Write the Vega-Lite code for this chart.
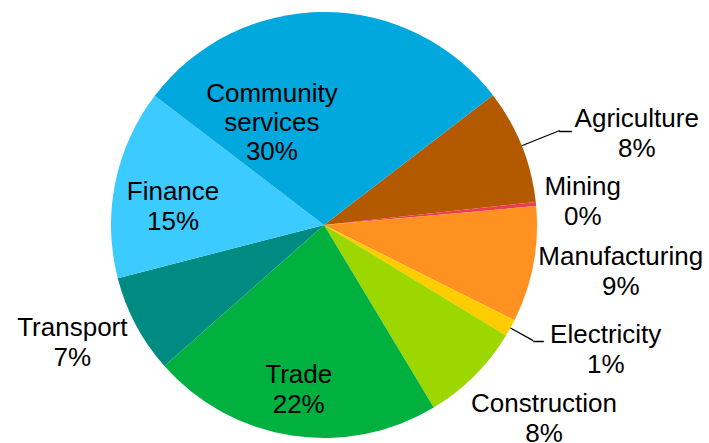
{
  "$schema": "https://vega.github.io/schema/vega-lite/v6.json",
  "width": 648,
  "height": 436,
  "padding": {"left": 0, "top": 7, "right": 61, "bottom": 0},
  "autosize": {"type": "none"},
  "background": "white",
  "config": {"view": {"stroke": null}},
  "data": {
    "values": [
      {"seq": 1, "sector": "Agriculture", "share": 8.7, "label": "Agriculture\n8%"},
      {"seq": 2, "sector": "Mining", "share": 0.3, "label": "Mining\n0%"},
      {"seq": 3, "sector": "Manufacturing", "share": 8.8, "label": "Manufacturing\n9%"},
      {"seq": 4, "sector": "Electricity", "share": 1.3, "label": "Electricity\n1%"},
      {"seq": 5, "sector": "Construction", "share": 7.7, "label": "Construction\n8%"},
      {"seq": 6, "sector": "Trade", "share": 22.1, "label": "Trade\n22%"},
      {"seq": 7, "sector": "Transport", "share": 7.5, "label": "Transport\n7%"},
      {"seq": 8, "sector": "Finance", "share": 14.4, "label": "Finance\n15%"},
      {"seq": 9, "sector": "Community services", "share": 29.2, "label": "Community\nservices\n30%"}
    ]
  },
  "encoding": {
    "theta": {"field": "share", "type": "quantitative", "stack": true, "scale": {"range": [0.9163, 7.1995]}},
    "order": {"field": "seq", "type": "quantitative"},
    "detail": {"field": "sector", "type": "nominal"}
  },
  "layer": [
    {
      "mark": {"type": "arc", "outerRadius": 213},
      "encoding": {
        "color": {
          "field": "sector", "type": "nominal", "legend": null,
          "scale": {
            "domain": ["Agriculture", "Mining", "Manufacturing", "Electricity", "Construction", "Trade", "Transport", "Finance", "Community services"],
            "range": ["#B35A00", "#EE3B4E", "#FF9121", "#FFCC00", "#9CD700", "#00B140", "#008B82", "#3CCBFF", "#00A8DD"]
          }
        }
      }
    },
    {
      "mark": {"type": "arc", "innerRadius": 213, "outerRadius": 254, "padAngle": 1.5, "fillOpacity": 0, "stroke": "black", "strokeWidth": 1.3},
      "encoding": {"strokeOpacity": {"condition": {"test": "datum.sector === 'Agriculture'", "value": 1}, "value": 0}}
    },
    {
      "mark": {"type": "arc", "innerRadius": 213, "outerRadius": 239, "padAngle": 1.5, "fillOpacity": 0, "stroke": "black", "strokeWidth": 1.3},
      "encoding": {"strokeOpacity": {"condition": {"test": "datum.sector === 'Electricity'", "value": 1}, "value": 0}}
    },
    {
      "mark": {"type": "text", "text": "—", "font": "Liberation Sans", "fontSize": 12, "radius": 259, "dx": 1, "dy": 2, "align": "center", "baseline": "middle", "color": "black", "stroke": "black", "strokeWidth": 0.6},
      "encoding": {"opacity": {"condition": {"test": "datum.sector === 'Agriculture'", "value": 1}, "value": 0}}
    },
    {
      "mark": {"type": "text", "text": "—", "font": "Liberation Sans", "fontSize": 10, "radius": 244, "dx": 1, "dy": -2, "align": "center", "baseline": "middle", "color": "black", "stroke": "black", "strokeWidth": 0.6},
      "encoding": {"opacity": {"condition": {"test": "datum.sector === 'Electricity'", "value": 1}, "value": 0}}
    },
    {
      "mark": {"type": "text", "font": "Liberation Sans", "fontSize": 26, "lineBreak": "\n", "lineHeight": 30, "align": "center", "baseline": "middle", "color": "black", "radius": 324, "dx": 12, "dy": 15},
      "encoding": {"text": {"condition": {"test": "datum.sector === 'Agriculture'", "field": "label", "type": "nominal"}, "value": ""}}
    },
    {
      "mark": {"type": "text", "font": "Liberation Sans", "fontSize": 26, "lineBreak": "\n", "lineHeight": 30, "align": "center", "baseline": "middle", "color": "black", "radius": 260, "dx": 0, "dy": -12},
      "encoding": {"text": {"condition": {"test": "datum.sector === 'Mining'", "field": "label", "type": "nominal"}, "value": ""}}
    },
    {
      "mark": {"type": "text", "font": "Liberation Sans", "fontSize": 26, "lineBreak": "\n", "lineHeight": 30, "align": "center", "baseline": "middle", "color": "black", "radius": 300, "dx": 2, "dy": -24},
      "encoding": {"text": {"condition": {"test": "datum.sector === 'Manufacturing'", "field": "label", "type": "nominal"}, "value": ""}}
    },
    {
      "mark": {"type": "text", "font": "Liberation Sans", "fontSize": 26, "lineBreak": "\n", "lineHeight": 30, "align": "center", "baseline": "middle", "color": "black", "radius": 307, "dx": 13, "dy": -38},
      "encoding": {"text": {"condition": {"test": "datum.sector === 'Electricity'", "field": "label", "type": "nominal"}, "value": ""}}
    },
    {
      "mark": {"type": "text", "font": "Liberation Sans", "fontSize": 26, "lineBreak": "\n", "lineHeight": 30, "align": "center", "baseline": "middle", "color": "black", "radius": 292, "dx": 14, "dy": -28},
      "encoding": {"text": {"condition": {"test": "datum.sector === 'Construction'", "field": "label", "type": "nominal"}, "value": ""}}
    },
    {
      "mark": {"type": "text", "font": "Liberation Sans", "fontSize": 26, "lineBreak": "\n", "lineHeight": 30, "align": "center", "baseline": "middle", "color": "black", "radius": 166, "dx": 0, "dy": -14},
      "encoding": {"text": {"condition": {"test": "datum.sector === 'Trade'", "field": "label", "type": "nominal"}, "value": ""}}
    },
    {
      "mark": {"type": "text", "font": "Liberation Sans", "fontSize": 26, "lineBreak": "\n", "lineHeight": 30, "align": "center", "baseline": "middle", "color": "black", "radius": 277, "dx": -7, "dy": -27},
      "encoding": {"text": {"condition": {"test": "datum.sector === 'Transport'", "field": "label", "type": "nominal"}, "value": ""}}
    },
    {
      "mark": {"type": "text", "font": "Liberation Sans", "fontSize": 26, "lineBreak": "\n", "lineHeight": 30, "align": "center", "baseline": "middle", "color": "black", "radius": 152, "dx": -2, "dy": -3},
      "encoding": {"text": {"condition": {"test": "datum.sector === 'Finance'", "field": "label", "type": "nominal"}, "value": ""}}
    },
    {
      "mark": {"type": "text", "font": "Liberation Sans", "fontSize": 26, "lineBreak": "\n", "lineHeight": 29, "align": "center", "baseline": "middle", "color": "black", "radius": 103, "dx": -52, "dy": -28},
      "encoding": {"text": {"condition": {"test": "datum.sector === 'Community services'", "field": "label", "type": "nominal"}, "value": ""}}
    }
  ]
}
